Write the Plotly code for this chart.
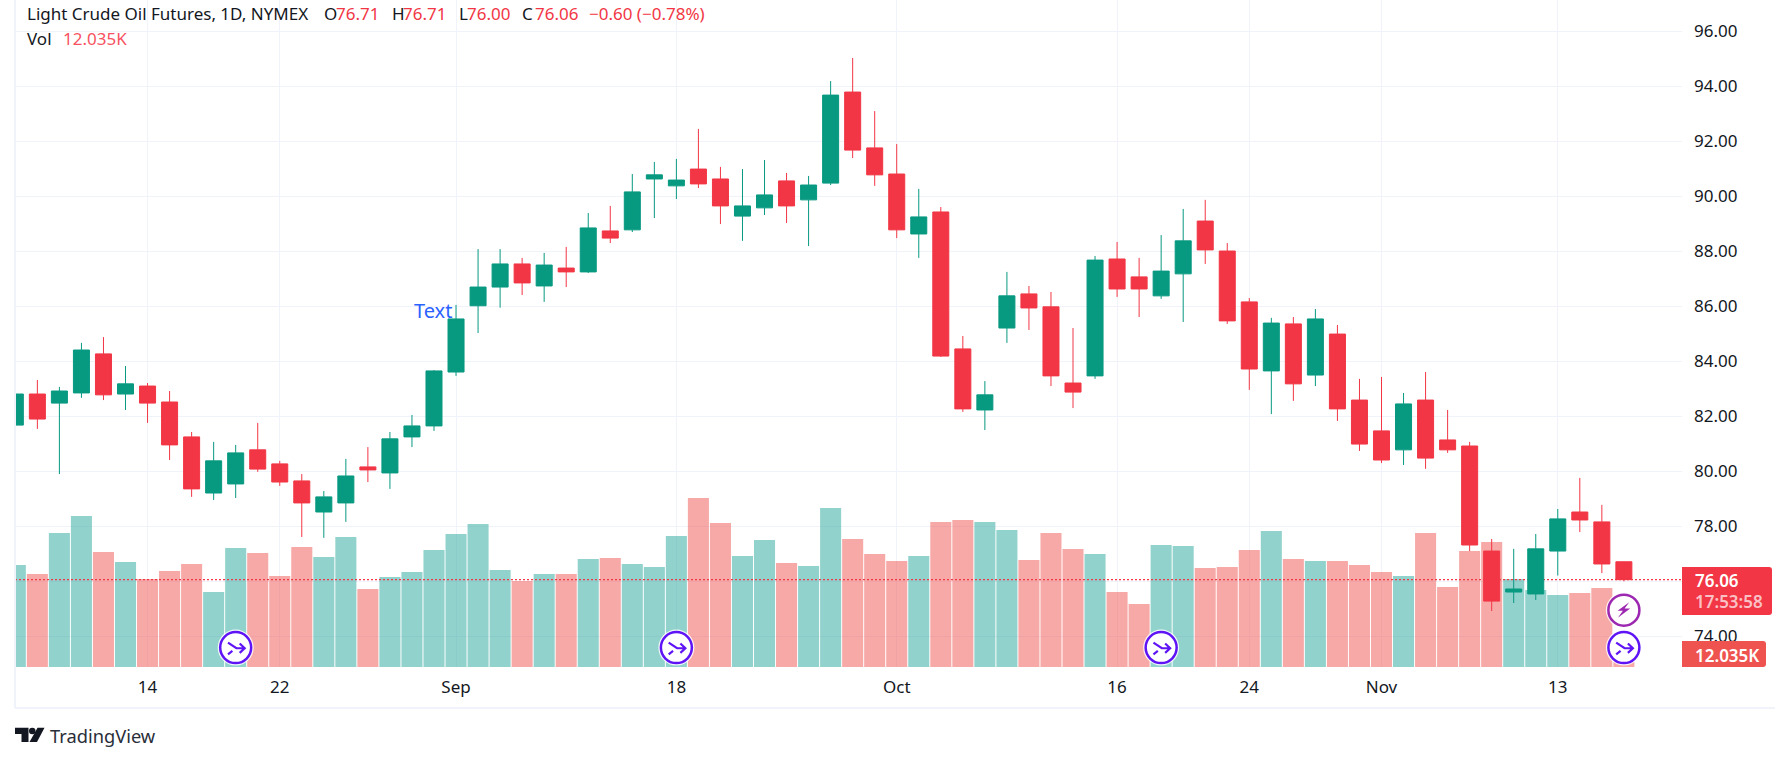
import plotly.graph_objects as go

# ---------- data ----------
opens = [81.68,82.81,82.48,82.85,84.27,82.81,83.10,82.52,81.25,79.21,79.54,80.78,80.27,79.65,78.52,78.85,80.16,79.94,81.25,81.65,
         83.61,86.02,86.70,87.54,86.74,87.39,87.25,88.74,88.78,90.63,90.38,90.99,90.63,89.28,89.58,90.56,89.87,90.48,93.79,91.76,
         90.81,88.63,89.43,84.45,82.23,85.21,86.45,85.98,83.21,83.47,87.72,87.07,86.38,87.18,89.10,88.01,86.16,83.65,85.36,83.50,
         84.99,82.59,81.47,80.78,82.59,81.14,80.92,77.10,75.61,75.54,77.10,78.52,78.16,76.71]
highs = [83.25,83.32,83.07,84.67,84.88,83.83,83.21,82.92,81.43,81.07,80.96,81.76,80.38,79.90,79.28,80.45,80.88,81.43,82.05,83.68,
         86.05,88.08,88.08,87.76,87.94,88.16,89.39,89.65,90.81,91.25,91.36,92.45,91.07,90.99,91.32,90.85,90.74,94.19,95.03,93.10,
         91.90,90.27,89.61,84.92,83.28,87.25,86.74,86.52,85.21,87.83,88.34,87.76,88.59,89.54,89.87,88.30,86.30,85.58,85.61,85.90,
         85.32,83.36,83.43,82.85,83.61,82.23,81.07,77.54,77.18,77.72,78.63,79.76,78.78,76.71]
lows = [81.50,81.54,79.90,82.67,82.59,82.23,81.76,80.41,79.07,78.96,79.03,79.98,79.47,77.61,77.58,78.16,79.61,79.36,80.88,81.47,
        83.47,85.03,85.95,86.41,86.16,86.70,87.21,88.30,88.70,89.21,89.90,90.30,88.99,88.38,89.32,89.03,88.19,90.41,91.39,90.38,
        88.48,87.76,84.16,82.16,81.50,84.67,85.14,83.10,82.30,83.36,86.34,85.61,86.27,85.43,87.54,85.36,82.96,82.08,82.56,83.10,
        81.83,80.74,80.30,80.23,80.09,80.67,77.10,74.92,75.21,75.32,76.21,77.79,76.30,76.00]
closes = [82.81,81.90,82.92,84.41,82.78,83.18,82.48,80.96,79.36,80.38,80.67,80.08,79.61,78.85,79.07,79.83,80.05,81.18,81.65,83.65,
          85.54,86.70,87.54,86.85,87.50,87.25,88.85,88.48,90.16,90.78,90.59,90.45,89.65,89.65,90.05,89.65,90.41,93.68,91.68,90.78,
          88.78,89.25,84.19,82.27,82.78,86.38,85.94,83.47,82.88,87.68,86.63,86.63,87.28,88.38,88.05,85.47,83.72,85.39,83.18,85.54,
          82.27,80.99,80.41,82.45,80.48,80.78,77.32,75.28,75.72,77.18,78.27,78.23,76.63,76.06]
volumes_k = [245.5,223.8,322.5,363.5,276.8,252.7,211.8,231.1,247.9,180.5,286.4,274.4,219.0,288.8,264.8,312.9,187.7,216.6,228.7,281.6,
             320.1,344.2,233.5,207.0,223.8,223.8,260.0,262.4,247.9,240.7,315.3,406.8,346.6,267.2,305.7,250.3,243.1,382.7,308.1,272.0,
             255.1,267.2,349.0,353.8,349.0,329.8,257.5,322.5,284.0,272.0,180.5,151.6,293.7,291.2,238.3,240.7,281.6,327.4,260.0,255.1,
             255.1,245.5,228.7,219.0,322.5,192.6,279.2,300.9,211.8,185.3,173.3,178.1,190.1,12.035]
tick_index = [6, 12, 20, 30, 40, 50, 56, 62, 70]
tick_labels = ["14", "22", "Sep", "18", "Oct", "16", "24", "Nov", "13"]
price_ticks = [74, 76, 78, 80, 82, 84, 86, 88, 90, 92, 94, 96]
last_price = 76.06
merge_icon_bars = [10, 30, 52, 73]
merge_icon_price = 73.59
bolt_icon_bar = 73
bolt_icon_price = 74.95

# ---------- layout constants ----------
W, H = 1775, 761
L, R, T, B = 15, 1682, 0, 667
PW, PH = R - L, B - T
SPACING = 22.035
XMIN = (L - 15.33) / SPACING
XMAX = XMIN + PW / SPACING
PMAX = 84 + (361.3 - T) / 27.5
PMIN = 84 - (B - 361.3) / 27.5
VMAX = PH * 2.407
FONT = "Noto Sans"
INK = "#131722"
RED = "#f23645"
GREEN = "#089981"
GRID = "#f0f3fa"

def px(x): return (x - L) / PW
def py(y): return 1 - (y - T) / PH
def pt(x, y): return f"{px(x):.5f},{py(y):.5f}"

n = len(opens)
x_idx = list(range(n))
vol_colors = ["rgba(38,166,154,0.5)" if c >= o else "rgba(239,83,80,0.5)" for o, c in zip(opens, closes)]

fig = go.Figure()
fig.add_trace(go.Bar(x=x_idx, y=volumes_k, marker=dict(color=vol_colors, line=dict(width=0)), yaxis="y", hoverinfo="skip"))
last_on_vol = (last_price - PMIN) / (PMAX - PMIN) * VMAX
fig.add_trace(go.Scatter(x=[XMIN, XMAX], y=[last_on_vol, last_on_vol], mode="lines",
                         line=dict(color=RED, width=1.2, dash="2px,2px"), yaxis="y", hoverinfo="skip"))
fig.add_trace(go.Candlestick(x=x_idx, open=opens, high=highs, low=lows, close=closes, yaxis="y2",
                             increasing=dict(line=dict(color=GREEN, width=1), fillcolor=GREEN),
                             decreasing=dict(line=dict(color=RED, width=1), fillcolor=RED),
                             whiskerwidth=0, hoverinfo="skip"))

shapes = []
# frame lines
shapes.append(dict(type="line", xref="paper", yref="paper", x0=px(15), x1=px(15), y0=py(0), y1=py(708),
                   line=dict(color=GRID, width=2)))
shapes.append(dict(type="line", xref="paper", yref="paper", x0=px(15), x1=px(1775), y0=py(708), y1=py(708),
                   line=dict(color=GRID, width=2)))
# price and volume badges
shapes.append(dict(type="path", xref="paper", yref="paper", line=dict(width=0), fillcolor=RED,
                   path=f"M{pt(1682,567)} L{pt(1769,567)} Q{pt(1772,567)} {pt(1772,570)} L{pt(1772,612)} "
                        f"Q{pt(1772,615)} {pt(1769,615)} L{pt(1682,615)} Z"))
shapes.append(dict(type="path", xref="paper", yref="paper", line=dict(width=0), fillcolor="#ef5350",
                   path=f"M{pt(1682,641)} L{pt(1763,641)} Q{pt(1766,641)} {pt(1766,644)} L{pt(1766,664)} "
                        f"Q{pt(1766,667)} {pt(1763,667)} L{pt(1682,667)} Z"))
# TradingView mark
shapes.append(dict(type="path", xref="paper", yref="paper", line=dict(width=0), fillcolor="#131722",
                   path=f"M{pt(15,727.7)} L{pt(28.5,727.7)} L{pt(28.5,742)} L{pt(21.5,742)} L{pt(21.5,734)} L{pt(15,734)} Z"))
shapes.append(dict(type="circle", xref="paper", yref="paper", line=dict(width=0), fillcolor="#131722",
                   x0=px(29), x1=px(35.5), y0=py(727.7), y1=py(734.2)))
shapes.append(dict(type="path", xref="paper", yref="paper", line=dict(width=0), fillcolor="#131722",
                   path=f"M{pt(37.5,727.7)} L{pt(44.5,727.7)} L{pt(37,742)} L{pt(29.5,742)} Z"))

def icon(bar, price, color):
    return dict(type="circle", xref="x", yref="y2", xsizemode="pixel", ysizemode="pixel",
                xanchor=bar, yanchor=price, x0=-15.5, x1=15.5, y0=-15.5, y1=15.5,
                fillcolor="white", line=dict(color=color, width=2.5))

def halo(bar, price):
    return dict(type="circle", xref="x", yref="y2", xsizemode="pixel", ysizemode="pixel",
                xanchor=bar, yanchor=price, x0=-18, x1=18, y0=-18, y1=18,
                fillcolor="rgba(255,255,255,0.85)", line=dict(width=0))

PURPLE = "#5f14f5"
for b in merge_icon_bars:
    shapes.append(halo(b, merge_icon_price))
    shapes.append(icon(b, merge_icon_price, PURPLE))
    shapes.append(dict(type="path", xref="x", yref="y2", xsizemode="pixel", ysizemode="pixel",
                       xanchor=b, yanchor=merge_icon_price, line=dict(color=PURPLE, width=2.2),
                       path="M-7.7,5 L0.7,-0.7 L9,-0.7 M4,4 L9,-0.7 L4,-5.3 M-7.7,-6.7 L-3.3,-3.3"))
shapes.append(halo(bolt_icon_bar, bolt_icon_price))
shapes.append(icon(bolt_icon_bar, bolt_icon_price, "#9c27b0"))
shapes.append(dict(type="path", xref="x", yref="y2", xsizemode="pixel", ysizemode="pixel",
                   xanchor=bolt_icon_bar, yanchor=bolt_icon_price, line=dict(width=0), fillcolor="#9c27b0",
                   path="M5.3,8 L-6.3,-0.7 L-1,-0.7 L-6,-7.7 L6.3,1.7 L0.7,1.7 Z"))

def note(x, y, text, color=INK, size=17, anchor="left", weight=None):
    f = dict(family=FONT, size=size, color=color)
    if weight:
        f["weight"] = weight
    return dict(xref="paper", yref="paper", x=px(x), y=py(y), text=text, showarrow=False,
                xanchor=anchor, yanchor="middle", borderpad=0, font=f)

annotations = [
    note(26, 13, "Light Crude Oil Futures, 1D, NYMEX"),
    note(323, 13, "O"), note(335, 13, "76.71", RED),
    note(391, 13, "H"), note(402, 13, "76.71", RED),
    note(458, 13, "L"), note(466, 13, "76.00", RED),
    note(521, 13, "C"), note(534, 13, "76.06", RED),
    note(588, 13, "\u22120.60 (\u22120.78%)", RED),
    note(26, 38.5, "Vol"), note(62, 38.5, "12.035K", "#f7525f"),
    note(453, 310, "Text", "#2962ff", 20, "right"),
    note(1694, 580, "76.06", "white", 17, weight=600),
    note(1694, 601.7, "17:53:58", "rgba(255,255,255,0.7)", 17, weight=600),
    note(1694, 655, "12.035K", "white", 17, weight=600),
    note(49, 735.5, "TradingView", "#2a2e39", 18.3),
]

fig.update_layout(
    width=W, height=H, margin=dict(l=L, r=W - R, t=T, b=H - B, pad=0),
    paper_bgcolor="white", plot_bgcolor="white", showlegend=False, hovermode=False,
    bargap=0.045, boxgap=0.273, boxgroupgap=0, barmode="overlay",
    xaxis=dict(type="linear", range=[XMIN, XMAX], tickmode="array", tickvals=tick_index, ticktext=tick_labels,
               showgrid=True, gridcolor=GRID, gridwidth=1, zeroline=False, showline=False, ticks="",
               ticklabelstandoff=8, rangeslider=dict(visible=False),
               tickfont=dict(family=FONT, size=17, color=INK)),
    yaxis=dict(range=[0, VMAX], visible=False, showgrid=False, zeroline=False),
    yaxis2=dict(range=[PMIN, PMAX], overlaying="y", side="right", tickmode="array", tickvals=price_ticks,
                tickformat=".2f", showgrid=True, gridcolor=GRID, gridwidth=1.5, zeroline=False, showline=False,
                ticks="", ticklabelstandoff=11, tickfont=dict(family=FONT, size=17, color=INK)),
    shapes=shapes, annotations=annotations,
)

fig.write_html("out.html", config=dict(displayModeBar=False, staticPlot=True),
               post_script="document.body.style.margin='0';document.body.style.overflow='hidden';")
